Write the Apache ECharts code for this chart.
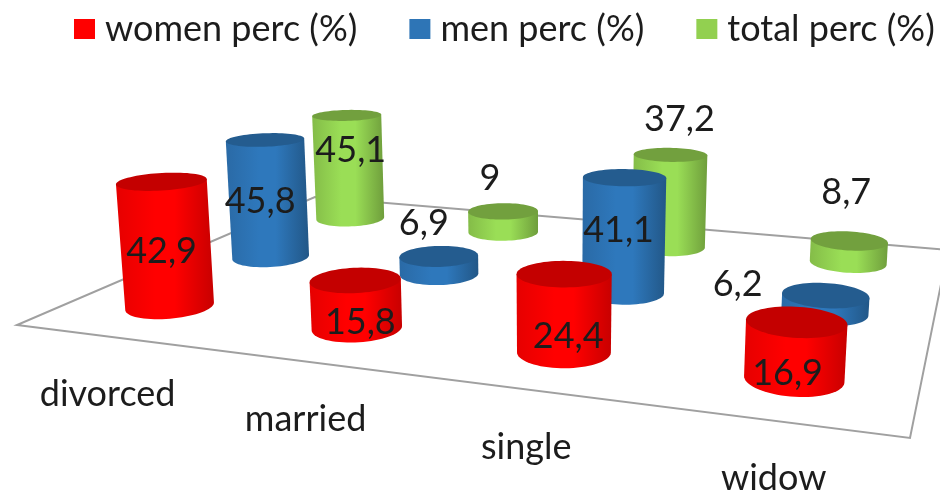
<!DOCTYPE html>
<html>
<head>
<meta charset="utf-8">
<style>html,body{margin:0;padding:0;background:#fff}#c{width:940px;height:492px}</style>
<script src="https://cdn.jsdelivr.net/npm/echarts@6/dist/echarts.min.js"></script>
</head>
<body>
<div id="c"></div>
<script>
var categories = ['divorced', 'married', 'single', 'widow'];
var seriesNames = ['women perc (%)', 'men perc (%)', 'total perc (%)'];
var womenPerc = [42.9, 15.8, 24.4, 16.9];
var menPerc = [45.8, 6.9, 41.1, 6.2];
var totalPerc = [45.1, 9, 37.2, 8.7];

// ---- presentation only below ----
var FONT = 'Lato, "Open Sans", sans-serif';
var TEXT = '#1c1c1c';
var H = { g: -0.2, h: 0.4227, a: 711, b: 431, c: 17, d: 25.4, e: -44.7, f: 325 }; // floor homography
var VP = [550, 6100];      // vanishing point of the verticals
var RU = 0.051, RV = 0.074; // cylinder radius in floor units
var N = 72;
var styles = [
  { main: '#ff0000', top: '#c40000', stops: ['#e60000', '#ff0000', '#ff0000', '#c80000'], labelOff: [[0, 70], [5, 42], [4, 62], [-9, 51]] },
  { main: '#2e75b6', top: '#245c8f', stops: ['#2a6aa6', '#2e78bc', '#2e78bc', '#225787'], labelOff: [[-5, 62], [-15, -33], [-6, 53], [-88, -11]] },
  { main: '#92d050', top: '#72a03e', stops: ['#84bc48', '#9ade56', '#9ade56', '#6f9e3c'], labelOff: [[4, 35], [-13, -33], [9, -35], [-3, -48]] }
];

function project(u, v) {
  var w = 1 + H.g * u + H.h * v;
  return { x: (H.a * u + H.b * v + H.c) / w, y: (H.d * u + H.e * v + H.f) / w, w: w };
}
function lift(p, unitH) {
  var dx = p.x - VP[0], dy = p.y - VP[1], len = Math.sqrt(dx * dx + dy * dy), L = unitH / p.w;
  return [p.x + dx / len * L, p.y + dy / len * L];
}
function fmt(v) { return String(v).replace('.', ','); }

function cylinder(depthIndex) {
  var st = styles[depthIndex];
  return function (params, api) {
    var i = api.value(0), val = api.value(1), cs = params.coordSys;
    var u = (api.coord([i, 0])[0] - cs.x) / cs.width;
    var v = (depthIndex + 0.5) / 3;
    var hPx = api.size([0, val])[1];
    var base = [], top = [];
    for (var k = 0; k < N; k++) {
      var t = k / N * Math.PI * 2;
      var p = project(u + RU * Math.cos(t), v + RV * Math.sin(t));
      base.push([p.x, p.y - 1]);
      top.push(lift(p, hPx));
    }
    function extreme(arr) {
      var lo = 0, hi = 0;
      arr.forEach(function (q, idx) { if (q[0] < arr[lo][0]) lo = idx; if (q[0] > arr[hi][0]) hi = idx; });
      return [lo, hi];
    }
    var be = extreme(base), te = extreme(top);
    var body = [top[te[0]]];
    var idx = be[0];
    var step = base[(be[0] + 1) % N][1] > base[(be[0] - 1 + N) % N][1] ? 1 : -1;
    while (idx !== be[1]) { body.push(base[idx]); idx = (idx + step + N) % N; }
    body.push(base[be[1]]);
    body.push(top[te[1]]);
    var cx = 0, cy = 0;
    top.forEach(function (q) { cx += q[0]; cy += q[1]; });
    cx /= N; cy /= N;
    var off = st.labelOff[i];
    return {
      type: 'group',
      children: [
        { type: 'polygon', shape: { points: body }, style: { fill: { type: 'linear', x: 0, y: 0, x2: 1, y2: 0, colorStops: [
          { offset: 0, color: st.stops[0] }, { offset: 0.4, color: st.stops[1] }, { offset: 0.6, color: st.stops[2] }, { offset: 1, color: st.stops[3] } ] } } },
        { type: 'polygon', shape: { points: top }, style: { fill: st.top } },
        { type: 'text', z2: 10, style: { x: cx + off[0], y: cy + off[1], text: fmt(val), fill: TEXT, font: '36px ' + FONT, textAlign: 'center', textVerticalAlign: 'middle' } }
      ]
    };
  };
}

function floorItem() {
  var c = [project(0, 0), project(1, 0), project(1, 1), project(0, 1)].map(function (p) { return [p.x, p.y]; });
  return { type: 'polygon', shape: { points: c }, style: { fill: '#ffffff', stroke: '#a0a0a0', lineWidth: 2 } };
}
function categoryLabel(params, api) {
  var i = api.value(0), cs = params.coordSys;
  var p = project((api.coord([i, 0])[0] - cs.x) / cs.width, 0);
  return { type: 'text', style: { x: p.x - 1, y: p.y + 58, text: categories[i], fill: TEXT, font: '36px ' + FONT, textAlign: 'center', textVerticalAlign: 'middle' } };
}
function toData(arr) { return arr.map(function (v, i) { return [i, v]; }); }

var chart = echarts.init(document.getElementById('c'), null, { renderer: 'canvas' });
var valueArrays = [womenPerc, menPerc, totalPerc];
var series = [
  { type: 'custom', name: 'floor', z: 1, silent: true, renderItem: floorItem, data: [[0, 0]], encode: { x: 0, y: 1 } },
  { type: 'custom', name: 'categories', z: 2, silent: true, renderItem: categoryLabel, data: categories.map(function (c, i) { return [i, 0]; }), encode: { x: 0, y: 1 } }
];
[2, 1, 0].forEach(function (j) {
  series.push({
    type: 'custom', name: seriesNames[j], z: 5 - j + 3, renderItem: cylinder(j),
    itemStyle: { color: styles[j].main }, data: toData(valueArrays[j]), encode: { x: 0, y: 1 }
  });
});
chart.setOption({
  animation: false,
  backgroundColor: '#ffffff',
  legend: {
    data: seriesNames, left: 69, top: 6, icon: 'rect', itemWidth: 21, itemHeight: 20, itemGap: 52,
    textStyle: { fontFamily: FONT, fontSize: 36, color: TEXT, padding: [0, 0, 0, 5] }, selectedMode: false
  },
  grid: { left: 0, top: 100, width: 940, height: 153 },
  xAxis: { type: 'category', data: categories, show: false },
  yAxis: { type: 'value', min: 0, max: 50, show: false },
  series: series
});
</script>
</body>
</html>
